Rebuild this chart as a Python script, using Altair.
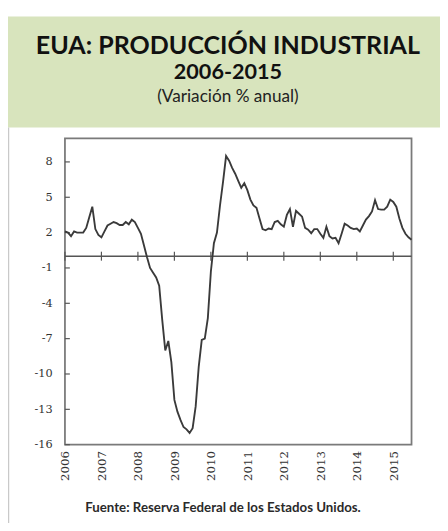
import altair as alt
import pandas as pd

title_lines = ["EUA: PRODUCCIÓN INDUSTRIAL", "2006-2015", "(Variación % anual)"]
source_note = "Fuente: Reserva Federal de los Estados Unidos."

# Monthly year-over-year % change, Jan 2006 .. Jul 2015
values = [
    2.1, 2.0, 1.7, 2.1, 2.0, 2.0, 2.0, 2.4, 3.3, 4.2, 2.3, 1.8,      # 2006
    1.6, 2.1, 2.6, 2.75, 2.9, 2.8, 2.65, 2.65, 2.9, 2.7, 3.1, 2.9,   # 2007
    2.4, 1.9, 0.9, -0.1, -1.0, -1.4, -1.8, -2.5, -5.4, -8.0, -7.2, -9.0,  # 2008
    -12.2, -13.2, -13.9, -14.5, -14.7, -15.0, -14.6, -12.75, -9.4, -7.1, -7.0, -5.25,  # 2009
    -1.3, 1.1, 2.0, 4.3, 6.3, 8.5, 8.1, 7.5, 7.0, 6.4, 5.8, 6.2,     # 2010
    5.6, 4.8, 4.3, 4.1, 3.2, 2.3, 2.2, 2.35, 2.3, 2.9, 3.0, 2.7,     # 2011
    2.5, 3.5, 4.0, 2.5, 3.85, 3.6, 3.35, 2.4, 2.25, 1.95, 2.3, 2.3,  # 2012
    1.9, 1.55, 2.5, 1.7, 1.5, 1.55, 1.1, 1.9, 2.75, 2.6, 2.4, 2.3,   # 2013
    2.35, 2.1, 2.6, 3.1, 3.4, 3.8, 4.75, 4.0, 3.95, 3.95, 4.2, 4.8,  # 2014
    4.6, 4.2, 3.2, 2.4, 1.9, 1.6, 1.4,                               # 2015
]
time = [2006 + i / 12 for i in range(len(values))]
year_ticks = list(range(2006, 2016))
y_ticks = [8, 5, 2, -1, -4, -7, -10, -13, -16]

df = pd.DataFrame({"t": time, "v": values})
tick_df = pd.DataFrame({"y": y_ticks})
year_df = pd.DataFrame({"yr": year_ticks})

W, H = 353, 312
FONT_AX = "DejaVu Serif"

x_scale = alt.Scale(domain=[2006, 2015.5], nice=False, zero=False)
y_scale = alt.Scale(domain=[-16, 10], nice=False, zero=False)

x_axis = alt.Axis(values=year_ticks, format="d", labelAngle=-90, ticks=False,
                  domain=False, grid=False, title=None, labelPadding=6,
                  labelOverlap=False, labelFlush=False,
                  labelFont=FONT_AX, labelFontSize=12, labelColor="#333333")
y_axis = alt.Axis(values=y_ticks, ticks=False, domain=False, grid=False, title=None,
                  labelPadding=13, labelOverlap=False, labelFlush=False,
                  labelFont=FONT_AX, labelFontSize=11.5,
                  labelColor="#333333", labelExpr="'' + datum.value")

line = alt.Chart(df).mark_line(color="#3a3a3a", strokeWidth=1.9).encode(
    x=alt.X("t:Q", scale=x_scale, axis=x_axis),
    y=alt.Y("v:Q", scale=y_scale, axis=y_axis),
)

zero = alt.Chart(pd.DataFrame({"z": [0]})).mark_rule(color="#555555", strokeWidth=1.5).encode(
    y=alt.Y("z:Q", scale=y_scale, axis=y_axis)
)

xticks = alt.Chart(year_df).mark_rule(color="#555555", strokeWidth=1.2).encode(
    x=alt.X("yr:Q", scale=x_scale, axis=x_axis),
    y=alt.datum(-0.38, scale=y_scale, axis=y_axis),
    y2=alt.datum(0.38),
)

yticks = alt.Chart(tick_df).mark_rule(color="#555555", strokeWidth=1.2).encode(
    y=alt.Y("y:Q", scale=y_scale, axis=y_axis),
    x=alt.value(0),
    x2=alt.value(5),
)

banner = alt.Chart(pd.DataFrame({"a": [0]})).mark_rect(color="#d8e4bd").encode(
    x=alt.value(-58), x2=alt.value(382), y=alt.value(-124), y2=alt.value(-11)
)

border = alt.Chart(pd.DataFrame({"a": [0]})).mark_rule(color="#c9c9c9", strokeWidth=1.5).encode(
    x=alt.value(-57.5), y=alt.value(-11), y2=alt.value(H + 80)
)

def text_layer(txt, y, size, weight, font="Lato", color="#111111"):
    return alt.Chart(pd.DataFrame({"txt": [txt]})).mark_text(
        font=font, fontSize=size, fontWeight=weight, color=color,
        align="center", baseline="alphabetic"
    ).encode(x=alt.value(166), y=alt.value(y), text="txt:N")

t1 = text_layer(title_lines[0], -86, 25.5, "bold")
t2 = text_layer(title_lines[1], -60, 22, "bold")
t3 = text_layer(title_lines[2], -37, 17.5, "normal", color="#222222")
foot = alt.Chart(pd.DataFrame({"txt": [source_note]})).mark_text(
    font="Lato", fontSize=13.5, fontWeight="bold", color="#2a2a2a", align="center", baseline="alphabetic"
).encode(x=alt.value(161), y=alt.value(381), text="txt:N")

chart = alt.layer(banner, border, zero, xticks, yticks, line, t1, t2, t3, foot).properties(
    width=W, height=H,
    autosize=alt.AutoSizeParams(type="none"),
    padding={"left": 58, "top": 128, "right": 29, "bottom": 75},
    background="white",
).configure_view(stroke="#7a7a7a", strokeWidth=1.8).configure_axis(labelOverlap=False)

chart.save("out.html", embed_options={"renderer": "svg", "actions": False})
